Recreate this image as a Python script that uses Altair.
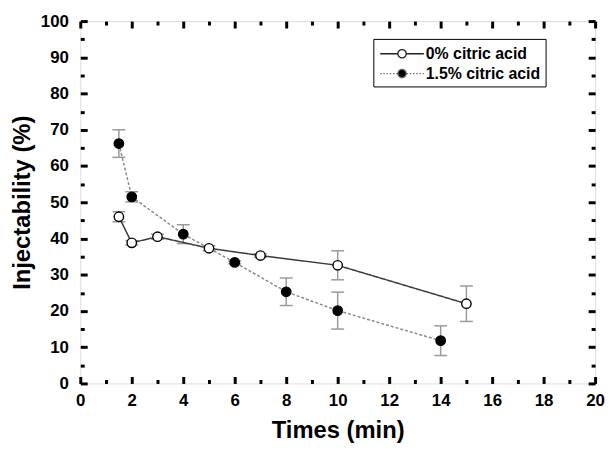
import altair as alt
import pandas as pd

series_names = ["0% citric acid", "1.5% citric acid"]

t0 = [1.5, 2, 3, 5, 7, 10, 15]
v0 = [46.0, 38.8, 40.5, 37.3, 35.3, 32.6, 22.0]
e0 = [1.4, 0.6, 0.7, 0.7, 0.5, 4.0, 4.9]

t1 = [1.5, 2, 4, 6, 8, 10, 14]
v1 = [66.2, 51.5, 41.2, 33.4, 25.3, 20.1, 11.8]
e1 = [3.8, 1.4, 2.6, 0.4, 3.8, 5.1, 4.1]

x_major = list(range(0, 21, 2))
x_minor = list(range(1, 20, 2))
y_major = list(range(0, 101, 10))
y_minor = list(range(5, 100, 10))

rows = []
for name, ts, vs, es in [(series_names[0], t0, v0, e0), (series_names[1], t1, v1, e1)]:
    for t, v, e in zip(ts, vs, es):
        rows.append({"series": name, "time": t, "value": v, "lo": v - e, "hi": v + e})
df = pd.DataFrame(rows)

FONT = "Liberation Sans"
xs = alt.Scale(domain=[0, 20], nice=False, zero=False)
ys = alt.Scale(domain=[0, 100], nice=False, zero=False)
is_first = f"datum.series == '{series_names[0]}'"


def tick_axis(orient, values, size, width):
    return alt.Axis(orient=orient, values=values, labels=False, domain=False, grid=False,
                    ticks=True, tickSize=alt.ExprRef(expr=str(-size)), tickWidth=width,
                    tickColor="black", title=None)


lab_x = alt.Axis(orient="bottom", values=x_major, ticks=False, domain=False, grid=False,
                 labelFont=FONT, labelFontSize=17, labelFontWeight="bold", labelColor="black",
                 labelPadding=9, labelFlush=False, labelOverlap=False,
                 title="Times (min)", titleFont=FONT, titleFontSize=24, titleFontWeight="bold",
                 titleColor="black", titlePadding=11)
lab_y = alt.Axis(orient="left", values=y_major, ticks=False, domain=False, grid=False,
                 labelFont=FONT, labelFontSize=17, labelFontWeight="bold", labelColor="black",
                 labelPadding=12, labelFlush=False, labelOverlap=False,
                 title="Injectability (%)", titleFont=FONT, titleFontSize=24, titleFontWeight="bold",
                 titleColor="black", titlePadding=6)

ERR = "#9a9a9a"

rules = alt.Chart(df).mark_rule(color=ERR, strokeWidth=1.5).encode(
    x=alt.X("time:Q", scale=xs, axis=lab_x),
    y=alt.Y("lo:Q", scale=ys, axis=lab_y),
    y2="hi:Q",
)

caps_lo = alt.Chart(df).mark_tick(orient="horizontal", size=13, thickness=1.5, color=ERR, opacity=1).encode(
    x=alt.X("time:Q", scale=xs, axis=tick_axis("bottom", x_major, 7, 3)),
    y=alt.Y("lo:Q", scale=ys, axis=tick_axis("left", y_major, 7, 3)),
)

caps_hi = alt.Chart(df).mark_tick(orient="horizontal", size=13, thickness=1.5, color=ERR, opacity=1).encode(
    x=alt.X("time:Q", scale=xs, axis=tick_axis("bottom", x_minor, 4, 3)),
    y=alt.Y("hi:Q", scale=ys, axis=tick_axis("left", y_minor, 4, 3)),
)

lines = alt.Chart(df).mark_line(strokeWidth=1.5).encode(
    x=alt.X("time:Q", scale=xs, axis=tick_axis("top", x_major, 7, 3)),
    y=alt.Y("value:Q", scale=ys, axis=tick_axis("right", y_major, 7, 3)),
    color=alt.condition(is_first, alt.value("#3a3a3a"), alt.value("#8a8a8a")),
    strokeDash=alt.condition(is_first, alt.value([1, 0]), alt.value([3, 2])),
    detail="series:N",
)

points = alt.Chart(df).mark_point(filled=True, shape="circle", size=90, stroke="black",
                                  strokeWidth=1.4, opacity=1).encode(
    x=alt.X("time:Q", scale=xs, axis=tick_axis("top", x_minor, 4, 3)),
    y=alt.Y("value:Q", scale=ys, axis=tick_axis("right", y_minor, 4, 3)),
    fill=alt.condition(is_first, alt.value("white"), alt.value("black")),
)

# legend symbols: line + circle (solid), dotted line + circle
R = 0.47
CIRCLE = f"M-{R},0A{R},{R},0,1,1,{R},0A{R},{R},0,1,1,-{R},0Z"
SOLID = f"M-2.45,0L-{R},0M{R},0L2.45,0" + CIRCLE


def dotted(a, b, seg=0.16, gap=0.2):
    parts = []
    p = a
    while p < b - 1e-9:
        q = min(p + seg, b)
        parts.append(f"M{p:.3f},0L{q:.3f},0")
        p = q + gap
    return "".join(parts)


DOTTED = dotted(-2.45, -R) + dotted(R + 0.05, 2.45) + CIRCLE

leg = alt.Legend(title=None, orient="none", legendX=296, legendY=18,
                 symbolSize=324, symbolStrokeWidth=1.3,
                 symbolOffset=14, labelOffset=14,
                 labelFont=FONT, labelFontSize=16, labelFontWeight="bold", labelColor="black",
                 strokeColor="black", padding=5, rowPadding=2)

legend_layer = alt.Chart(df).transform_filter("false").mark_point(filled=True, opacity=1, size=324).encode(
    x=alt.X("time:Q", scale=xs, axis=None),
    y=alt.Y("value:Q", scale=ys, axis=None),
    fill=alt.Fill("series:N", scale=alt.Scale(domain=series_names, range=["white", "black"]), legend=leg),
    shape=alt.Shape("series:N", scale=alt.Scale(domain=series_names, range=[SOLID, DOTTED]), legend=leg),
    stroke=alt.Stroke("series:N", scale=alt.Scale(domain=series_names, range=["#222222", "#6a6a6a"]), legend=leg),
)

chart = alt.layer(rules, caps_lo, caps_hi, lines, points, legend_layer).resolve_axis(
    x="independent", y="independent"
).properties(
    width=520, height=366,
    autosize=alt.AutoSizeParams(type="none"),
    padding={"left": 73, "top": 11, "right": 10, "bottom": 64},
).configure_view(stroke="black", strokeWidth=3).configure(background="white")

chart.save("out.html", embed_options={"renderer": "svg", "actions": False})
